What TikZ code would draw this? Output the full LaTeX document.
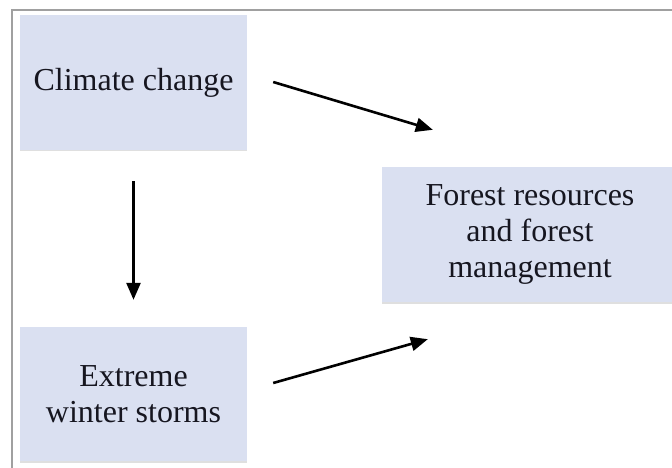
\documentclass[tikz,border=0pt]{standalone}
\usepackage{fontspec}
\setmainfont{Liberation Serif}
\usetikzlibrary{arrows.meta,shadows}
\definecolor{boxfill}{RGB}{218,224,241}
\definecolor{framegray}{RGB}{160,160,160}
\definecolor{inkdark}{RGB}{22,22,32}
\tikzset{
  factor/.style={fill=boxfill, draw=none, inner sep=0pt, align=center, text=inkdark,
    drop shadow={shadow xshift=0pt, shadow yshift=-1.5pt, opacity=0.25, fill=gray},
    font=\fontsize{32}{36}\selectfont},
  link/.style={line width=2.6pt, -{Triangle[length=17pt,width=14pt]}}
}
\begin{document}
\begin{tikzpicture}[x=1pt,y=-1pt]
  \useasboundingbox (0,0) rectangle (672,468);
  % frame: only its top and left edges fall inside the page
  \draw[framegray, line width=1.8pt] (12,470) -- (12,10) -- (674,10);

  \node[factor, minimum width=227pt, minimum height=135pt] (cc) at (133.5,82.5) {Climate change};
  \node[factor, minimum width=227pt, minimum height=134pt] (ews) at (133.5,394)
    {\fontsize{32}{33}\selectfont Extreme\\winter storms};
  \node[factor, minimum width=296pt, minimum height=135pt] (frm) at (530,234.5)
    {\fontsize{32}{37}\selectfont Forest resources\\and forest\\management};

  % arrow ends sit in the gaps between the boxes (yshift is upward on the page)
  \coordinate (ccR) at ([xshift=26pt,yshift=0.5pt]cc.east);
  \coordinate (frmT) at ([xshift=51pt,yshift=37pt]frm.north west);
  \coordinate (ccB) at ([yshift=-31pt]cc.south);
  \coordinate (ewsT) at ([yshift=27pt]ews.north);
  \coordinate (ewsR) at ([xshift=26pt,yshift=11pt]ews.east);
  \coordinate (frmB) at ([xshift=46pt,yshift=-37pt]frm.south west);

  \draw[link] (ccR) -- (frmT);
  \draw[link] (ccB) -- (ewsT);
  \draw[link] (ewsR) -- (frmB);
\end{tikzpicture}
\end{document}
